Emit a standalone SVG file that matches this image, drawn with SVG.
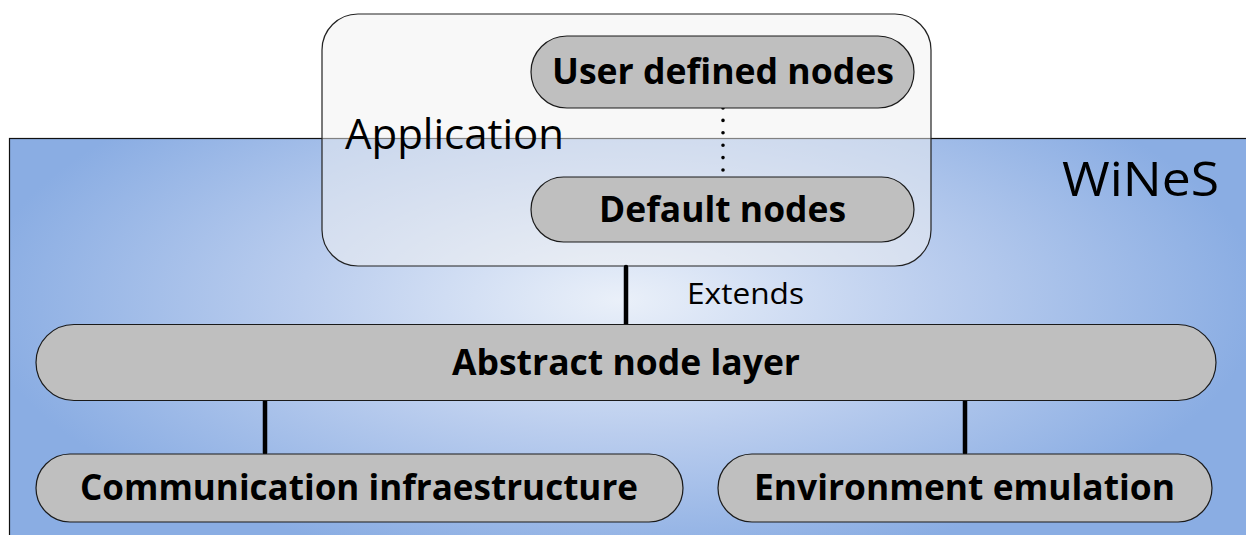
<svg xmlns="http://www.w3.org/2000/svg" width="1246" height="535" viewBox="0 0 1246 535">
  <defs>
    <radialGradient id="bg" gradientUnits="userSpaceOnUse" cx="620" cy="300" r="640" gradientTransform="translate(0 300) scale(1 0.42) translate(0 -300)">
      <stop offset="0" stop-color="#eaf0f9"/>
      <stop offset="0.5" stop-color="#bacdee"/>
      <stop offset="1" stop-color="#8aade3"/>
    </radialGradient>
  </defs>
  <style>
    .pill { fill: #bfbfbf; stroke: #1a1a1a; stroke-width: 1.2; }
    .bold { font-family: "Open Sans", "Liberation Sans", sans-serif; font-weight: bold; fill: #000; }
    .reg { font-family: "Open Sans", "Liberation Sans", sans-serif; font-weight: normal; fill: #000; }
    .link { stroke: #000; stroke-width: 4.5; stroke-linecap: round; fill: none; }
    .dots { stroke: #000; stroke-width: 3.6; stroke-linecap: round; stroke-dasharray: 0 12.4; fill: none; }
  </style>

  <g id="wines">
    <rect x="9.5" y="138.5" width="1250" height="410" fill="url(#bg)" stroke="#111" stroke-width="1.2"/>
    <text class="reg" x="1062" y="196" font-size="47" textLength="157" lengthAdjust="spacingAndGlyphs">WiNeS</text>
  </g>

  <g id="application">
    <rect x="322" y="14" width="609" height="252" rx="36" ry="36" fill="#f2f2f2" fill-opacity="0.5" stroke="#222" stroke-width="1.2"/>
    <text class="reg" x="345" y="149" font-size="42" textLength="219" lengthAdjust="spacingAndGlyphs">Application</text>
  </g>

  <g id="connectors">
    <line class="dots" x1="723" y1="108" x2="723" y2="171"/>
    <line class="link" x1="626" y1="267" x2="626" y2="325"/>
    <line class="link" x1="265" y1="401" x2="265" y2="453"/>
    <line class="link" x1="965" y1="401" x2="965" y2="453"/>
    <text class="reg" x="687" y="304" font-size="30" textLength="117" lengthAdjust="spacingAndGlyphs">Extends</text>
  </g>

  <g id="user-defined-nodes">
    <rect class="pill" x="531" y="36" width="383" height="72" rx="36" ry="36"/>
    <text class="bold" x="552" y="84" font-size="36" textLength="342" lengthAdjust="spacingAndGlyphs">User defined nodes</text>
  </g>

  <g id="default-nodes">
    <rect class="pill" x="531" y="177" width="383" height="65" rx="32.5" ry="32.5"/>
    <text class="bold" x="599" y="222" font-size="36" textLength="247" lengthAdjust="spacingAndGlyphs">Default nodes</text>
  </g>

  <g id="abstract-node-layer">
    <rect class="pill" x="36" y="324.5" width="1180" height="76" rx="38" ry="38"/>
    <text class="bold" x="452" y="375" font-size="36" textLength="348" lengthAdjust="spacingAndGlyphs">Abstract node layer</text>
  </g>

  <g id="communication-infraestructure">
    <rect class="pill" x="36" y="454" width="647" height="68" rx="34" ry="34"/>
    <text class="bold" x="80" y="500" font-size="36" textLength="558" lengthAdjust="spacingAndGlyphs">Communication infraestructure</text>
  </g>

  <g id="environment-emulation">
    <rect class="pill" x="718" y="454" width="494" height="68" rx="34" ry="34"/>
    <text class="bold" x="754" y="500" font-size="36" textLength="421" lengthAdjust="spacingAndGlyphs">Environment emulation</text>
  </g>
</svg>
